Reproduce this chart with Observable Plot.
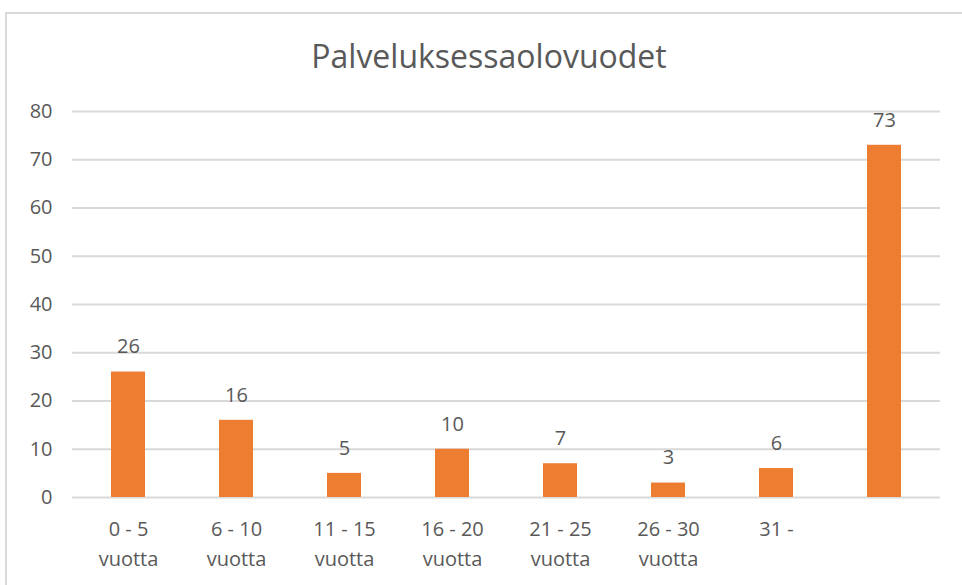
<!DOCTYPE html>
<html>
<head>
<meta charset="utf-8">
<script src="https://cdn.jsdelivr.net/npm/d3@7"></script>
<script src="https://cdn.jsdelivr.net/npm/@observablehq/plot@0.6"></script>
<style>
  html, body { margin: 0; padding: 0; background: #fff; }
  #wrap { position: relative; width: 962px; height: 585px; overflow: hidden; font-family: "Open Sans", sans-serif; }
  #frame { position: absolute; left: 5px; top: 12px; width: 1000px; height: 600px; border-top: 2px solid #d9d9d9; border-left: 2px solid #d9d9d9; }
  #title { position: absolute; left: 0; top: 0; width: 978px; height: 90px; line-height: 112px; text-align: center; font-size: 32px; color: #595959; }
  #chart { position: absolute; left: 0; top: 90px; }
</style>
</head>
<body>
<div id="wrap">
  <div id="frame"></div>
  <div id="title">Palveluksessaolovuodet</div>
  <div id="chart"></div>
</div>
<script>
const categories = ["0 - 5\nvuotta", "6 - 10\nvuotta", "11 - 15\nvuotta", "16 - 20\nvuotta", "21 - 25\nvuotta", "26 - 30\nvuotta", "31 -", ""];
const values = [26, 16, 5, 10, 7, 3, 6, 73];
const yTicks = [0, 10, 20, 30, 40, 50, 60, 70, 80];

const data = categories.map((c, i) => ({category: c, value: values[i]}));

const plot = Plot.plot({
  width: 962,
  height: 495,
  marginTop: 21,
  marginBottom: 88,
  marginLeft: 72,
  marginRight: 22,
  style: {fontFamily: "Open Sans, sans-serif", fontSize: "20px", color: "#595959", background: "transparent"},
  x: {domain: categories, paddingInner: 0.687, paddingOuter: 0.3435, align: 0.5, label: null},
  y: {domain: [0, 80], ticks: yTicks, label: null},
  marks: [
    Plot.ruleY(yTicks, {stroke: "#d9d9d9", strokeWidth: 2}),
    Plot.barY(data, {x: "category", y: "value", fill: "#ED7D31"}),
    Plot.text(data, {x: "category", y: "value", text: d => String(d.value), dy: -25, fill: "#595959", fontSize: 20}),
    Plot.axisY({ticks: yTicks, tickSize: 0, tickPadding: 20, fontSize: 20, fill: "#595959", label: null}),
    Plot.axisX({tickSize: 0, tickPadding: 17, fontSize: 20, fill: "#595959", lineHeight: 1.5, label: null})
  ]
});
document.getElementById("chart").appendChild(plot);
</script>
</body>
</html>
